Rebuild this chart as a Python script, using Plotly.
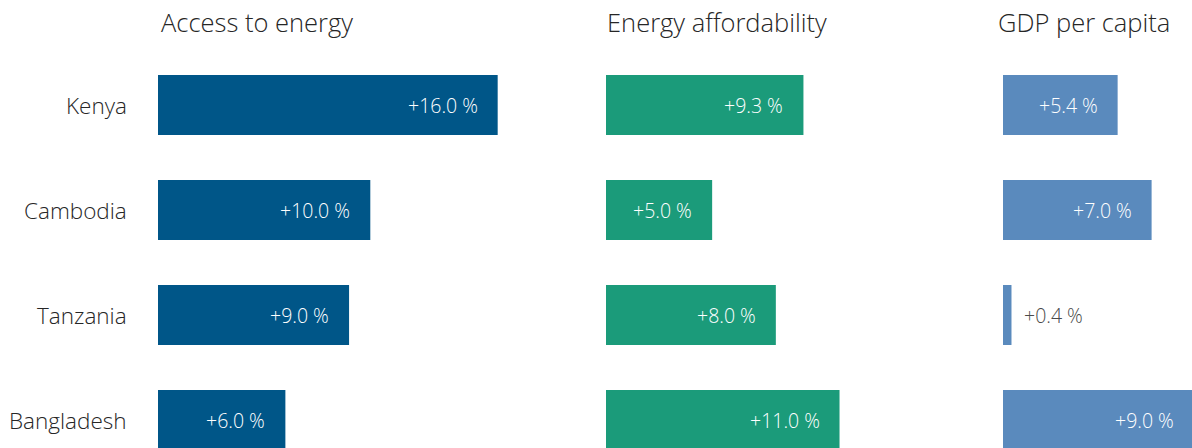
import plotly.graph_objects as go

countries = ["Kenya", "Cambodia", "Tanzania", "Bangladesh"]
panel_titles = ["Access to energy", "Energy affordability", "GDP per capita"]
access_energy = [16.0, 10.0, 9.0, 6.0]
energy_affordability = [9.3, 5.0, 8.0, 11.0]
gdp_per_capita = [5.4, 7.0, 0.4, 9.0]

series = [access_energy, energy_affordability, gdp_per_capita]
colors = ["#005688", "#1b9b7a", "#5a8abd"]

W, H = 1200, 448
PX_PER_UNIT = 21.23
starts = [158, 606, 1003]
ends = [560, 960, W]
title_x = [159, 605, 996]

FONT = "'Open Sans', Lato, sans-serif"
TEXT = "#262626"

fig = go.Figure()
annotations = []
for k, vals in enumerate(series):
    xa = "x" if k == 0 else f"x{k+1}"
    fig.add_trace(go.Bar(
        x=vals, y=list(range(len(countries))), orientation="h",
        marker=dict(color=colors[k], line=dict(width=0)),
        width=0.571, xaxis=xa, yaxis="y", hoverinfo="skip",
    ))
    for i, v in enumerate(vals):
        label = f"+{v:.1f} %"
        inside = v * PX_PER_UNIT > 90
        annotations.append(dict(
            x=v, y=i, xref=xa, yref="y", text=label, showarrow=False,
            xanchor="right" if inside else "left",
            xshift=-18 if inside else 11,
            font=dict(family=FONT, size=19.5, weight=300,
                      color="white" if inside else "#4a4a4a"),
        ))
    annotations.append(dict(
        x=title_x[k] / W, y=1 - 22 / H, xref="paper", yref="paper",
        text=panel_titles[k], showarrow=False, xanchor="left", yanchor="middle",
        font=dict(family=FONT, size=25.5, weight=300, color=TEXT),
    ))

for i, c in enumerate(countries):
    annotations.append(dict(
        x=129 / W, y=i, xref="paper", yref="y", text=c, showarrow=False,
        xanchor="right", yanchor="middle",
        font=dict(family=FONT, size=22.5, weight=300, color=TEXT),
    ))

layout = dict(
    width=W, height=H, margin=dict(l=0, r=0, t=0, b=0),
    paper_bgcolor="white", plot_bgcolor="white", showlegend=False,
    annotations=annotations,
    yaxis=dict(range=[3 + 28 / 105, -1], showticklabels=False, showgrid=False,
               zeroline=False, showline=False, fixedrange=True),
)
for k in range(3):
    key = "xaxis" if k == 0 else f"xaxis{k+1}"
    layout[key] = dict(
        domain=[starts[k] / W, ends[k] / W],
        range=[0, (ends[k] - starts[k]) / PX_PER_UNIT],
        showticklabels=False, showgrid=False, zeroline=False, showline=False,
        anchor="y", fixedrange=True,
    )
fig.update_layout(**layout)
fig.write_html(
    "out.html",
    config={"displayModeBar": False},
    post_script="document.body.style.margin='0px';document.body.style.overflow='hidden';",
)
